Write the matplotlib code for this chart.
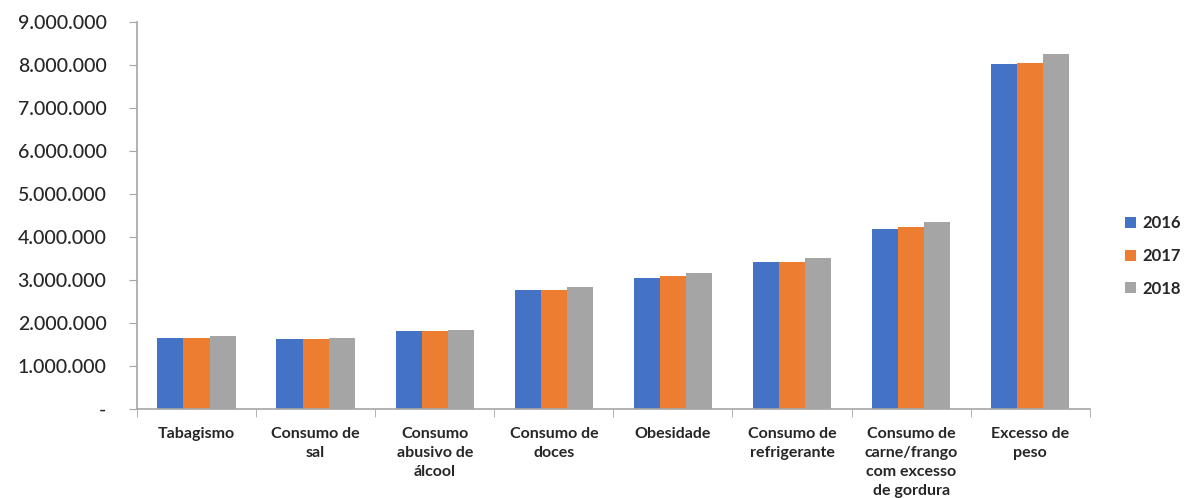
import numpy as np
import matplotlib.pyplot as plt
from matplotlib.ticker import FuncFormatter, FixedLocator

CATEGORIES = [
    "Tabagismo",
    "Consumo de\nsal",
    "Consumo\nabusivo de\nálcool",
    "Consumo de\ndoces",
    "Obesidade",
    "Consumo de\nrefrigerante",
    "Consumo de\ncarne/frango\ncom excesso\nde gordura",
    "Excesso de\npeso",
]

YEARS = ["2016", "2017", "2018"]

VALUES_2016 = [1650000, 1620000, 1800000, 2765000, 3045000, 3405000, 4190000, 8010000]
VALUES_2017 = [1650000, 1620000, 1800000, 2765000, 3090000, 3405000, 4225000, 8055000]
VALUES_2018 = [1690000, 1650000, 1835000, 2835000, 3150000, 3505000, 4335000, 8265000]

COLORS = ["#4472C4", "#ED7D31", "#A5A5A5"]
AXIS_GREY = "#A6A6A6"
TEXT_COLOR = "#262626"


def fmt_y(v, pos):
    if v == 0:
        return "-"
    return f"{int(v):,}".replace(",", ".")


def main():
    plt.rcParams["font.family"] = ["Lato", "DejaVu Sans"]

    fig = plt.figure(figsize=(11.91, 4.98), dpi=100)
    ax = fig.add_axes([0.115, 0.179, 0.8, 0.777])

    x = np.arange(len(CATEGORIES))
    width = 0.219
    series = [VALUES_2016, VALUES_2017, VALUES_2018]
    for i, (year, vals) in enumerate(zip(YEARS, series)):
        ax.bar(x + (i - 1) * width, vals, width, color=COLORS[i], label=year, zorder=2)

    ax.set_xlim(-0.5, len(CATEGORIES) - 0.5)
    ax.set_ylim(0, 9000000)
    ax.set_yticks(np.arange(0, 9000001, 1000000))
    ax.yaxis.set_major_formatter(FuncFormatter(fmt_y))

    ax.set_xticks(x)
    ax.set_xticklabels(CATEGORIES, fontsize=11.5, fontweight="bold", color=TEXT_COLOR,
                       linespacing=1.45, va="top")
    ax.xaxis.set_minor_locator(FixedLocator(np.arange(-0.5, len(CATEGORIES), 1)))
    ax.tick_params(axis="x", which="major", length=0, pad=13)
    ax.tick_params(axis="x", which="minor", length=6, color=AXIS_GREY, direction="out")
    ax.tick_params(axis="y", length=6, color=AXIS_GREY, labelsize=14, labelcolor=TEXT_COLOR, pad=16)
    for lbl in ax.get_yticklabels():
        lbl.set_fontweight("medium")

    for side in ["top", "right"]:
        ax.spines[side].set_visible(False)
    for side in ["left", "bottom"]:
        ax.spines[side].set_color(AXIS_GREY)
        ax.spines[side].set_linewidth(1.2)

    leg = fig.legend(loc="center left", bbox_to_anchor=(0.945, 0.486), frameon=False,
                     borderpad=0, borderaxespad=0,
                     handlelength=0.65, handleheight=0.65, handletextpad=0.35,
                     labelspacing=1.0, prop={"weight": "bold", "size": 12})
    for t in leg.get_texts():
        t.set_color(TEXT_COLOR)

    fig.savefig("out.png", dpi=100)


if __name__ == "__main__":
    main()
